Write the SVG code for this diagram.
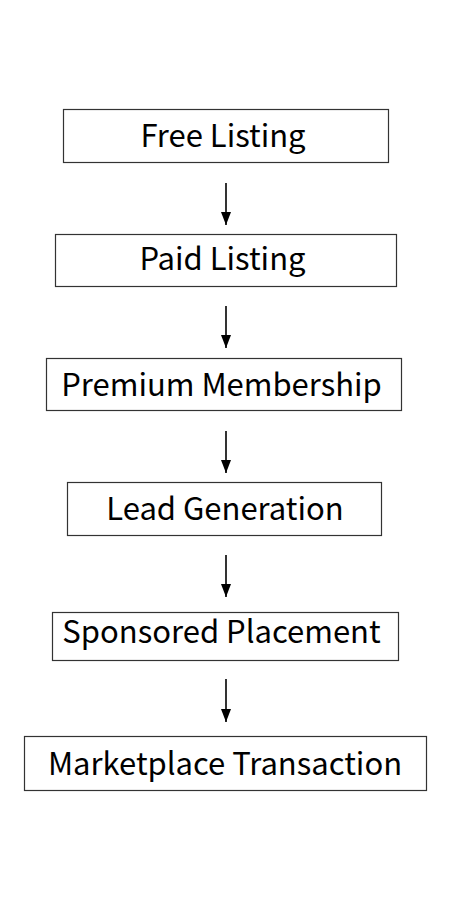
<svg xmlns="http://www.w3.org/2000/svg" width="450" height="900" viewBox="0 0 450 900">
<style>
.box{fill:#fff;stroke:#333;stroke-width:1.2}
.lbl{font-family:"Noto Sans CJK JP","Noto Sans",sans-serif;font-size:31px;fill:#000;text-anchor:middle}
.edge{stroke:#000;stroke-width:1.6;fill:none;marker-end:url(#ah)}
</style>
<defs>
<marker id="ah" markerUnits="userSpaceOnUse" markerWidth="14" markerHeight="10" refX="13" refY="5" orient="auto" viewBox="0 0 14 10">
<path d="M0,0 L13,5 L0,10 Z" fill="#000"/>
</marker>
</defs>
<rect width="450" height="900" fill="#fff"/>
<g id="connectors">
<line class="edge" x1="226" y1="183" x2="226" y2="225"/>
<line class="edge" x1="226" y1="306" x2="226" y2="348"/>
<line class="edge" x1="226" y1="431" x2="226" y2="473"/>
<line class="edge" x1="226" y1="555" x2="226" y2="597"/>
<line class="edge" x1="226" y1="679" x2="226" y2="722"/>
</g>
<g id="n1"><rect class="box" x="63.5" y="109.5" width="325" height="53"/><text class="lbl" x="223" y="147">Free Listing</text></g>
<g id="n2"><rect class="box" x="55.5" y="234.5" width="341" height="52"/><text class="lbl" x="222.5" y="270">Paid Listing</text></g>
<g id="n3"><rect class="box" x="46.5" y="358.5" width="355" height="52"/><text class="lbl" x="221.5" y="396">Premium Membership</text></g>
<g id="n4"><rect class="box" x="67.5" y="482.5" width="314" height="53"/><text class="lbl" x="225" y="520">Lead Generation</text></g>
<g id="n5"><rect class="box" x="52.5" y="612.5" width="346" height="48"/><text class="lbl" x="221.5" y="643">Sponsored Placement</text></g>
<g id="n6"><rect class="box" x="24.5" y="736.5" width="402" height="54"/><text class="lbl" x="225" y="775">Marketplace Transaction</text></g>
</svg>
